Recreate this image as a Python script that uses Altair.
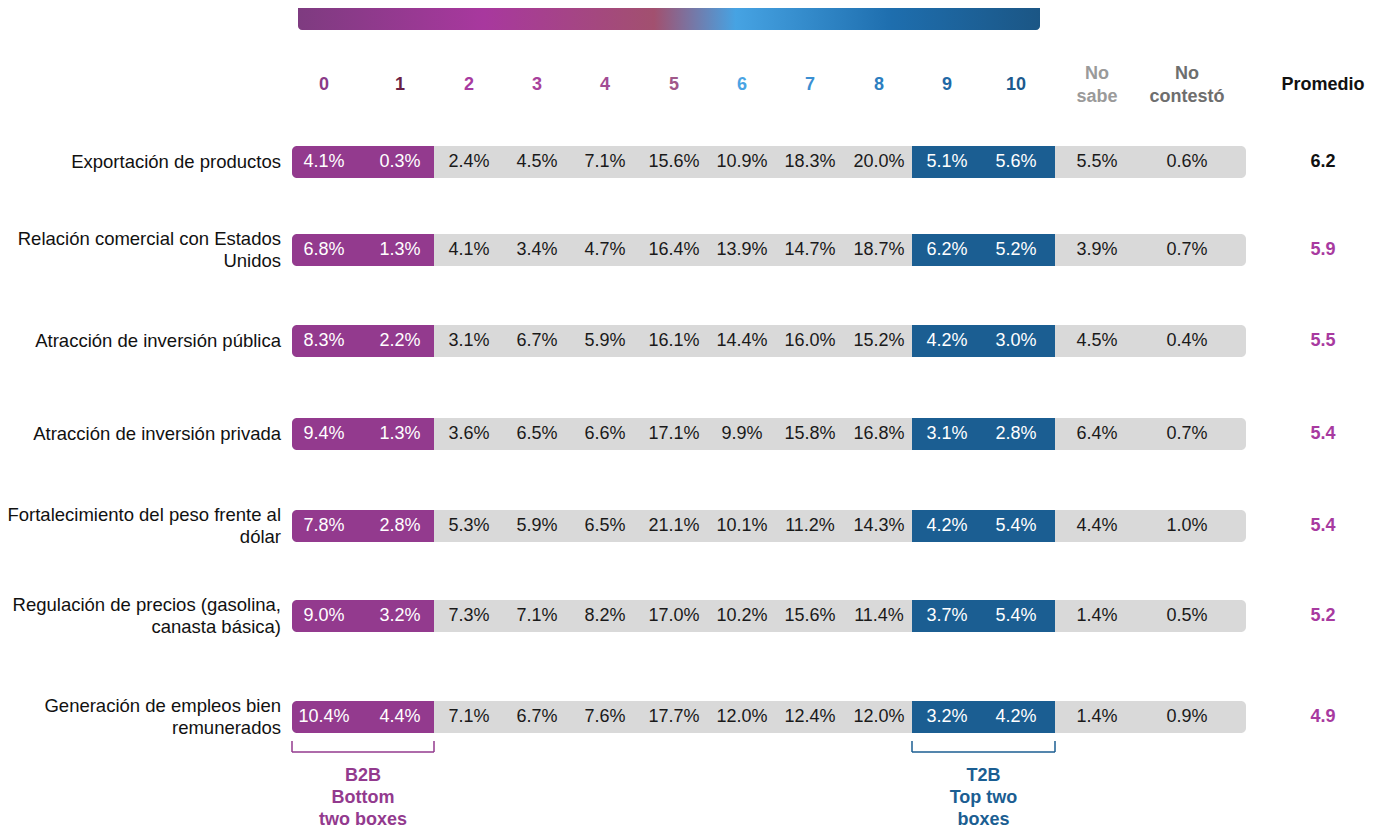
import altair as alt
import pandas as pd

# ---------------- data ----------------
rows = [
    "Exportación de productos",
    "Relación comercial con Estados Unidos",
    "Atracción de inversión pública",
    "Atracción de inversión privada",
    "Fortalecimiento del peso frente al dólar",
    "Regulación de precios (gasolina, canasta básica)",
    "Generación de empleos bien remunerados",
]
row_lines = [
    ["Exportación de productos"],
    ["Relación comercial con Estados", "Unidos"],
    ["Atracción de inversión pública"],
    ["Atracción de inversión privada"],
    ["Fortalecimiento del peso frente al", "dólar"],
    ["Regulación de precios (gasolina,", "canasta básica)"],
    ["Generación de empleos bien", "remunerados"],
]
columns = ["0", "1", "2", "3", "4", "5", "6", "7", "8", "9", "10", "No sabe", "No contestó"]
values = [
    [4.1, 0.3, 2.4, 4.5, 7.1, 15.6, 10.9, 18.3, 20.0, 5.1, 5.6, 5.5, 0.6],
    [6.8, 1.3, 4.1, 3.4, 4.7, 16.4, 13.9, 14.7, 18.7, 6.2, 5.2, 3.9, 0.7],
    [8.3, 2.2, 3.1, 6.7, 5.9, 16.1, 14.4, 16.0, 15.2, 4.2, 3.0, 4.5, 0.4],
    [9.4, 1.3, 3.6, 6.5, 6.6, 17.1, 9.9, 15.8, 16.8, 3.1, 2.8, 6.4, 0.7],
    [7.8, 2.8, 5.3, 5.9, 6.5, 21.1, 10.1, 11.2, 14.3, 4.2, 5.4, 4.4, 1.0],
    [9.0, 3.2, 7.3, 7.1, 8.2, 17.0, 10.2, 15.6, 11.4, 3.7, 5.4, 1.4, 0.5],
    [10.4, 4.4, 7.1, 6.7, 7.6, 17.7, 12.0, 12.4, 12.0, 3.2, 4.2, 1.4, 0.9],
]
promedio = [6.2, 5.9, 5.5, 5.4, 5.4, 5.2, 4.9]
header_lines = [["0"], ["1"], ["2"], ["3"], ["4"], ["5"], ["6"], ["7"], ["8"], ["9"], ["10"],
                ["No", "sabe"], ["No", "contestó"], ["Promedio"]]
b2b_lines = ["B2B", "Bottom", "two boxes"]
t2b_lines = ["T2B", "Top two", "boxes"]

# ---------------- layout (pixel positions on the page) ----------------
W, H = 1357, 820
FONT = "Arial, Liberation Sans, sans-serif"
col_x = [324, 400, 469, 537, 605, 674, 742, 810, 879, 947, 1016, 1097, 1187, 1323]
row_y = [162, 250, 341, 434, 526, 616, 717]
header_colors = ["#8A3A88", "#6A1F45", "#A83AA0", "#A8419C", "#A24B94", "#A0588A",
                 "#4AA4E4", "#3A8FD2", "#2C7EC0", "#1F69A6", "#1C5A8E", "#9A9A9A", "#6E6E6E", "#111111"]
bar_x0, bar_x1 = 292, 1246
pur_x0, pur_x1 = 292, 434
blu_x0, blu_x1 = 912, 1055
half_h = 16
PURPLE = "#933A8E"
BLUE = "#1B5E92"
GREY = "#D9D9D9"

xs = alt.Scale(domain=[8, 8 + W], range=[0, W])
ys = alt.Scale(domain=[8, 8 + H], range=[0, H])

def X(f="x"):
    return alt.X(f"{f}:Q", scale=xs, axis=None)

def Y(f="y"):
    return alt.Y(f"{f}:Q", scale=ys, axis=None)

# gradient bar at top
grad_df = pd.DataFrame({"x": [298], "x2": [1040], "y": [4], "y2": [30]})
grad = alt.Chart(grad_df).mark_rect(
    cornerRadius=4,
    fill=alt.LinearGradient(
        gradient="linear", x1=0, x2=1, y1=0, y2=0,
        stops=[
            alt.GradientStop(offset=0.0, color="#7E3B80"),
            alt.GradientStop(offset=0.25, color="#A8389E"),
            alt.GradientStop(offset=0.48, color="#A2506F"),
            alt.GradientStop(offset=0.59, color="#46A3E3"),
            alt.GradientStop(offset=0.80, color="#1E6EAE"),
            alt.GradientStop(offset=1.0, color="#1B5685"),
        ],
    ),
).encode(x=X(), x2="x2:Q", y=Y(), y2="y2:Q")

# headers
hdr = []
for i, lines in enumerate(header_lines):
    n = len(lines)
    for j, t in enumerate(lines):
        hdr.append({"x": col_x[i], "y": 85 + (j - (n - 1) / 2) * 23, "t": t, "c": header_colors[i]})
hdr_df = pd.DataFrame(hdr)
headers = alt.Chart(hdr_df).mark_text(font=FONT, fontSize=18, fontWeight="bold", baseline="middle").encode(
    x=X(), y=Y(), text="t:N", color=alt.Color("c:N", scale=None))

# grey bars, purple, blue
bars_df = pd.DataFrame({
    "row": rows,
    "y": [v - half_h for v in row_y],
    "y2": [v + half_h for v in row_y],
})
grey = alt.Chart(bars_df).mark_rect(cornerRadius=5, color=GREY).encode(
    x=alt.X("gx:Q", scale=xs, axis=None), x2="gx2:Q", y=Y(), y2="y2:Q"
).transform_calculate(gx=str(bar_x0), gx2=str(bar_x1))
purple = alt.Chart(bars_df).mark_rect(cornerRadiusTopLeft=5, cornerRadiusBottomLeft=5, color=PURPLE).encode(
    x=alt.X("gx:Q", scale=xs, axis=None), x2="gx2:Q", y=Y(), y2="y2:Q"
).transform_calculate(gx=str(pur_x0), gx2=str(pur_x1))
blue = alt.Chart(bars_df).mark_rect(color=BLUE).encode(
    x=alt.X("gx:Q", scale=xs, axis=None), x2="gx2:Q", y=Y(), y2="y2:Q"
).transform_calculate(gx=str(blu_x0), gx2=str(blu_x1))

# values in bars
vals = []
for r, rv in enumerate(values):
    for c, v in enumerate(rv):
        white = c in (0, 1, 9, 10)
        vals.append({"x": col_x[c], "y": row_y[r], "t": f"{v:.1f}%", "c": "#FFFFFF" if white else "#1A1A1A"})
vals_df = pd.DataFrame(vals)
val_text = alt.Chart(vals_df).mark_text(font=FONT, fontSize=18, baseline="middle").encode(
    x=X(), y=Y(), text="t:N", color=alt.Color("c:N", scale=None))

# promedio
prom_df = pd.DataFrame({
    "x": [col_x[13]] * len(promedio),
    "y": row_y,
    "t": [f"{p:.1f}" for p in promedio],
    "c": ["#111111"] + ["#A83AA0"] * (len(promedio) - 1),
})
prom_text = alt.Chart(prom_df).mark_text(font=FONT, fontSize=18, fontWeight="bold", baseline="middle").encode(
    x=X(), y=Y(), text="t:N", color=alt.Color("c:N", scale=None))

# row labels
lab = []
for r, lines in enumerate(row_lines):
    n = len(lines)
    for j, t in enumerate(lines):
        lab.append({"x": 281, "y": row_y[r] + (j - (n - 1) / 2) * 22, "t": t})
lab_df = pd.DataFrame(lab)
labels = alt.Chart(lab_df).mark_text(font=FONT, fontSize=18.5, align="right", baseline="middle", color="#111111").encode(
    x=X(), y=Y(), text="t:N")

# brackets
br = []
for (x0, x1, col) in [(pur_x0, pur_x1, PURPLE), (blu_x0, blu_x1, BLUE)]:
    br.append({"x": x0, "x2": x0, "y": 741, "y2": 752, "c": col})
    br.append({"x": x1, "x2": x1, "y": 741, "y2": 752, "c": col})
    br.append({"x": x0, "x2": x1, "y": 752, "y2": 752, "c": col})
br_df = pd.DataFrame(br)
brackets = alt.Chart(br_df).mark_rule(strokeWidth=1.5).encode(
    x=X(), x2="x2:Q", y=Y(), y2="y2:Q", color=alt.Color("c:N", scale=None))

bt = []
for j, t in enumerate(b2b_lines):
    bt.append({"x": (pur_x0 + pur_x1) / 2, "y": 776 + j * 22, "t": t, "c": PURPLE})
for j, t in enumerate(t2b_lines):
    bt.append({"x": (blu_x0 + blu_x1) / 2, "y": 776 + j * 22, "t": t, "c": BLUE})
bt_df = pd.DataFrame(bt)
br_text = alt.Chart(bt_df).mark_text(font=FONT, fontSize=18, fontWeight="bold", baseline="middle").encode(
    x=X(), y=Y(), text="t:N", color=alt.Color("c:N", scale=None))

chart = alt.layer(
    grad, headers, grey, purple, blue, val_text, prom_text, labels, brackets, br_text
).properties(
    width=W, height=H, padding=0, autosize=alt.AutoSizeParams(type="none")
).configure_view(stroke=None)

chart.save("out.html", embed_options={"renderer": "svg", "actions": False})
